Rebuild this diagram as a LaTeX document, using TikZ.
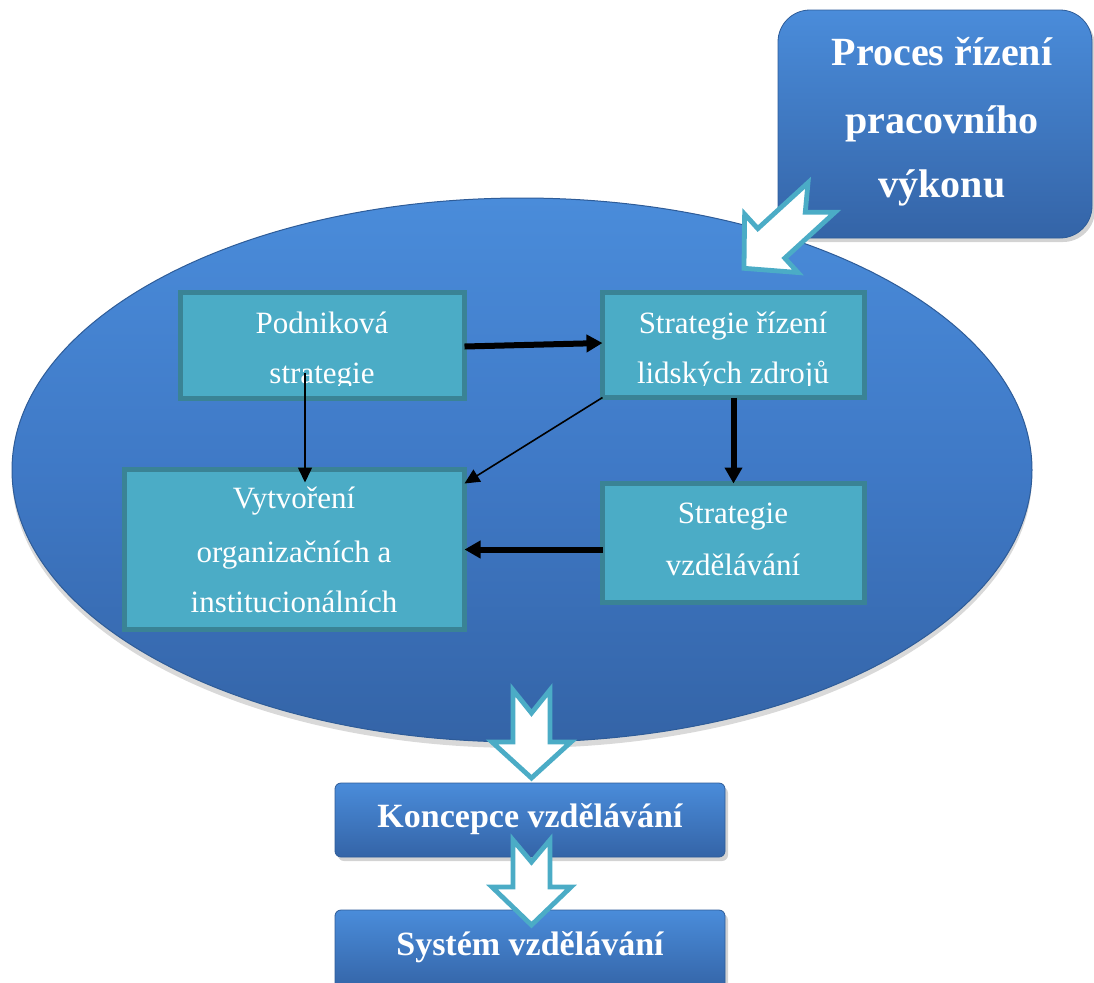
\documentclass[tikz,border=0pt]{standalone}
\usepackage{fontspec}
\setmainfont{Liberation Serif}
\usetikzlibrary{shapes.geometric,arrows.meta,shadows}
\definecolor{tealfill}{HTML}{4BACC6}
\definecolor{tealdark}{HTML}{3A8395}
\definecolor{blueTop}{HTML}{4A8CDA}
\definecolor{blueMid}{HTML}{3F79C6}
\definecolor{blueBot}{HTML}{3464A7}
\definecolor{blueEdge}{HTML}{2E5C98}
\begin{document}
\begin{tikzpicture}[x=0.5pt,y=-0.5pt,
  tbox/.style={draw=tealdark, line width=2.5pt, fill=tealfill, inner sep=0pt, outer sep=0pt},
  bluebox/.style={draw=blueEdge, line width=0.4pt, top color=blueTop, bottom color=blueBot, inner sep=0pt, outer sep=0pt,
    drop shadow={shadow xshift=1.5pt, shadow yshift=-2pt, opacity=0.35}},
  ttext/.style={font=\fontsize{15.5}{18}\selectfont, text=white, anchor=base, inner sep=0pt},
  btext/.style={font=\bfseries\fontsize{17}{20}\selectfont, text=white, anchor=base, inner sep=0pt},
  ptext/.style={font=\bfseries\fontsize{20}{24}\selectfont, text=white, anchor=base, inner sep=0pt},
  thickarrow/.style={line width=3pt, -{Triangle[length=8pt,width=8.5pt]}},
  thinarrow/.style={line width=0.8pt, -{Triangle[length=7.5pt,width=7pt]}},
  blockarrow/.style={draw=tealfill, fill=white, line width=2.4pt, line join=miter}
]
\useasboundingbox (0,0) rectangle (1094,982);

% big ellipse
\node[ellipse, inner sep=0pt, minimum width=510pt, minimum height=272pt,
  draw=blueEdge, line width=0.5pt, top color=blueTop, bottom color=blueBot, middle color=blueMid,
  drop shadow={shadow xshift=0pt, shadow yshift=-3pt, opacity=0.3}] (ell) at (522,470) {};

% top right box
\node[bluebox, rounded corners=16pt, minimum width=157pt, minimum height=114pt] (proc) at (935,124) {};
\node[ptext] (p1) at (942,65) {Proces řízení};
\node[ptext] (p2) at (942,133) {pracovního};
\node[ptext] (p3) at (942,197) {výkonu};

% teal boxes
\node[tbox, minimum width=142pt, minimum height=53pt] (pod) at (322.5,345.5) {};
\node[tbox, minimum width=131pt, minimum height=52.5pt] (hr) at (733.5,345) {};
\node[tbox, minimum width=131pt, minimum height=59.5pt] (sv) at (733.5,543) {};
\node[tbox, minimum width=170pt, minimum height=80pt] (vyt) at (294.5,549.5) {};

\begin{scope}
\clip (150,280) rectangle (900,385.5);
\node[ttext] (t1) at (322,333) {Podniková};
\node[ttext] (t2) at (322,383) {strategie};
\node[ttext] (t3) at (733,333) {Strategie řízení};
\node[ttext] (t4) at (733,383) {lidských zdrojů};
\end{scope}
\node[ttext] (t5) at (733,523) {Strategie};
\node[ttext] (t6) at (733,575) {vzdělávání};
\node[ttext] (t7) at (294,508) {Vytvoření};
\node[ttext] (t8) at (294,562) {organizačních a};
\node[ttext] (t9) at (294,612) {institucionálních};

% connectors
\draw[thickarrow] ([yshift=-0.5pt]pod.east) -- ([yshift=1pt]hr.west);
\draw[thickarrow] (hr.south) -- (sv.north);
\draw[thickarrow] (sv.west |- vyt.east) -- (vyt.east);
\draw[thinarrow] (hr.south west) -- ([yshift=-7pt]vyt.north east);
\coordinate (s1) at ([xshift=-8.75pt,yshift=13pt]pod.south);
\path (s1 |- vyt.north) coordinate (e1);
\draw[thinarrow] (s1) -- ([yshift=-6.5pt]e1);

% lower boxes
\node[bluebox, rounded corners=3pt, minimum width=195pt, minimum height=37pt] (konc) at (530,820) {};
\node[btext] (k1) at (530,827) {Koncepce vzdělávání};
\node[bluebox, rounded corners=3pt, minimum width=195pt, minimum height=40pt] (sys) at (530,950) {};
\node[btext] (s2) at (530,955) {Systém vzdělávání};

% block arrows
\begin{scope}[shift={(821.5,197.5)}, rotate=-47.6]
\draw[blockarrow] (-20,0) -- (0,22) -- (20,0) -- (20,68) -- (39.5,68) -- (0,105) -- (-39.5,68) -- (-20,68) -- cycle;
\end{scope}
\begin{scope}[shift={(531.5,690)}]
\draw[blockarrow] (-18.5,0) -- (0,23) -- (18.5,0) -- (18.5,52) -- (39.5,52) -- (0,88) -- (-39.5,52) -- (-18.5,52) -- cycle;
\end{scope}
\begin{scope}[shift={(531.5,840)}]
\draw[blockarrow] (-18.5,0) -- (0,22) -- (18.5,0) -- (18.5,47) -- (39.5,47) -- (0,85) -- (-39.5,47) -- (-18.5,47) -- cycle;
\end{scope}
\end{tikzpicture}
\end{document}
